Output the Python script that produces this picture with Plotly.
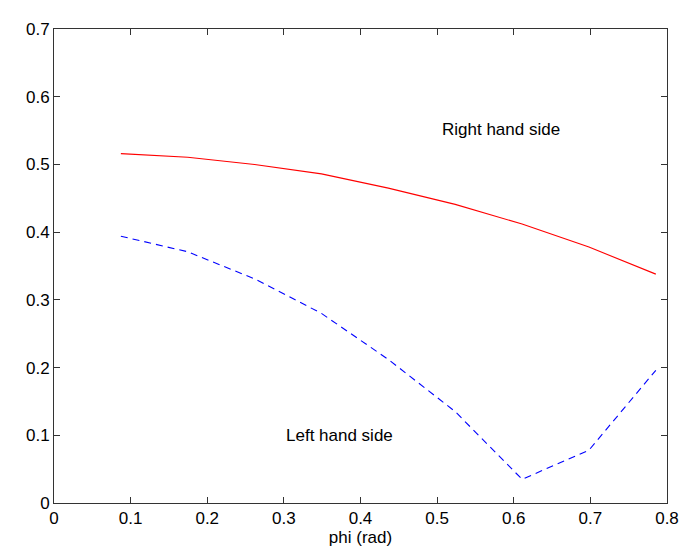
import math
import plotly.graph_objects as go

phi = [k * math.pi / 36 for k in range(1, 10)]
right_hand = [0.516, 0.5105, 0.500, 0.486, 0.465, 0.441, 0.412, 0.378, 0.338]
left_hand = [0.394, 0.371, 0.331, 0.280, 0.212, 0.135, 0.035, 0.078, 0.196]
x_ticks = [0, 0.1, 0.2, 0.3, 0.4, 0.5, 0.6, 0.7, 0.8]
y_ticks = [0, 0.1, 0.2, 0.3, 0.4, 0.5, 0.6, 0.7]
x_tick_text = ["0", "0.1", "0.2", "0.3", "0.4", "0.5", "0.6", "0.7", "0.8"]
y_tick_text = ["0", "0.1", "0.2", "0.3", "0.4", "0.5", "0.6", "0.7"]

fig = go.Figure()
fig.add_trace(go.Scatter(x=phi, y=right_hand, mode="lines",
                         line=dict(color="#ff0000", width=1.1), showlegend=False))
fig.add_trace(go.Scatter(x=phi, y=left_hand, mode="lines",
                         line=dict(color="#0000ff", width=1.1, dash="7px,5px"), showlegend=False))

fig.add_annotation(x=0.583, y=0.551, text="Right hand side", showarrow=False,
                   font=dict(size=17, color="black"))
fig.add_annotation(x=0.373, y=0.100, text="Left hand side", showarrow=False,
                   font=dict(size=17, color="black"))

axis_common = dict(showline=True, linecolor="#333333", linewidth=1, mirror="ticks",
                   ticks="inside", ticklen=6, tickcolor="#333333", showgrid=False,
                   zeroline=False, tickfont=dict(size=17, color="black"))
fig.update_xaxes(range=[0, 0.8], tickvals=x_ticks, ticktext=x_tick_text,
                 title=dict(text="phi (rad)", font=dict(size=17, color="black"), standoff=2),
                 **axis_common)
fig.update_yaxes(range=[0, 0.7], tickvals=y_ticks, ticktext=y_tick_text, **axis_common)

fig.update_layout(width=688, height=548, margin=dict(l=46, r=29, t=12, b=53),
                  plot_bgcolor="white", paper_bgcolor="white",
                  font=dict(family="Liberation Sans, Arial, sans-serif", color="black"))
fig.write_html("out.html")
